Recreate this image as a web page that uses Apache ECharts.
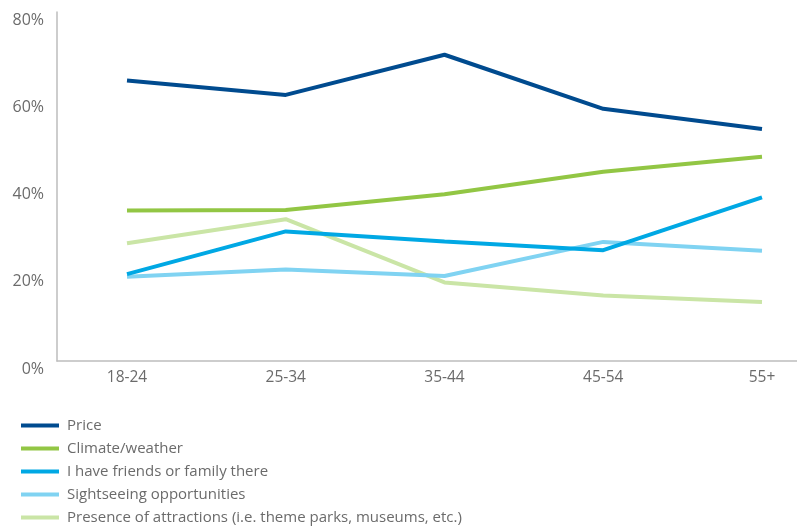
<!DOCTYPE html>
<html lang="en">
<head>
    <meta charset="UTF-8">
    <title>Reasons by age group</title>
    <style>
        html, body { margin: 0; padding: 0; background: #fff; }
        #chart { width: 797px; height: 527px; }
    </style>
</head>
<body>
    <div id="chart"></div>
    <script src="https://cdn.jsdelivr.net/npm/echarts@6/dist/echarts.min.js"></script>
    <script>
        var ageGroups = ['18-24', '25-34', '35-44', '45-54', '55+'];
        var yTicks = [0, 20, 40, 60, 80];

        var seriesNames = [
            'Price',
            'Climate/weather',
            'I have friends or family there',
            'Sightseeing opportunities',
            'Presence of attractions (i.e. theme parks, museums, etc.)'
        ];
        var price = [64.3, 61.0, 70.2, 57.8, 53.2];
        var climate = [34.5, 34.6, 38.2, 43.4, 46.8];
        var friends = [19.9, 29.7, 27.4, 25.4, 37.5];
        var sightseeing = [19.3, 21.0, 19.5, 27.3, 25.3];
        var attractions = [27.0, 32.5, 18.0, 15.0, 13.5];

        var colors = ['#004b8f', '#92c644', '#00a8e4', '#80d3f2', '#cae5a6'];
        var values = [price, climate, friends, sightseeing, attractions];

        var font = '"Open Sans", "Noto Sans", sans-serif';
        var grey = '#6b6b6b';
        var axisGrey = '#bdbdbd';

        var myChart = echarts.init(document.getElementById('chart'));

        var series = seriesNames.map(function (name, i) {
            return {
                name: name,
                type: 'line',
                xAxisIndex: 1,
                yAxisIndex: 1,
                data: values[i],
                symbol: 'none',
                lineStyle: { color: colors[i], width: 4 },
                itemStyle: { color: colors[i] },
                z: 10 - i
            };
        });

        var option = {
            animation: false,
            color: colors,
            textStyle: { fontFamily: font },
            grid: [
                { left: 57, right: 0, top: 12, bottom: 166 },
                { left: 127, right: 35, top: 12, bottom: 166 }
            ],
            xAxis: [{
                gridIndex: 0,
                type: 'category',
                data: ageGroups,
                axisLine: { lineStyle: { color: axisGrey, width: 1.5 } },
                axisTick: { show: false },
                axisLabel: { show: false }
            }, {
                gridIndex: 1,
                type: 'category',
                data: ageGroups,
                boundaryGap: false,
                axisLine: { show: false },
                axisTick: { show: false },
                axisLabel: { color: grey, fontSize: 15.5, fontFamily: font, margin: 9 }
            }],
            yAxis: [{
                gridIndex: 0,
                type: 'value',
                min: yTicks[0],
                max: yTicks[yTicks.length - 1],
                interval: 20,
                axisLine: { show: true, lineStyle: { color: axisGrey, width: 1.5 } },
                axisTick: { show: false },
                splitLine: { show: false },
                axisLabel: {
                    color: grey, fontSize: 16, fontFamily: font, margin: 13,
                    verticalAlign: 'top',
                    formatter: '{value}%'
                }
            }, {
                gridIndex: 1,
                type: 'value',
                min: yTicks[0],
                max: yTicks[yTicks.length - 1],
                show: false
            }],
            legend: {
                orient: 'vertical',
                left: 21,
                top: 418,
                bottom: 0,
                padding: 0,
                icon: 'rect',
                itemWidth: 38,
                itemHeight: 4,
                itemGap: 8,
                data: seriesNames,
                textStyle: { color: grey, fontSize: 15, fontFamily: font, lineHeight: 15, padding: [0, 0, 0, 3] }
            },
            series: series
        };
        myChart.setOption(option);
    </script>
</body>
</html>
